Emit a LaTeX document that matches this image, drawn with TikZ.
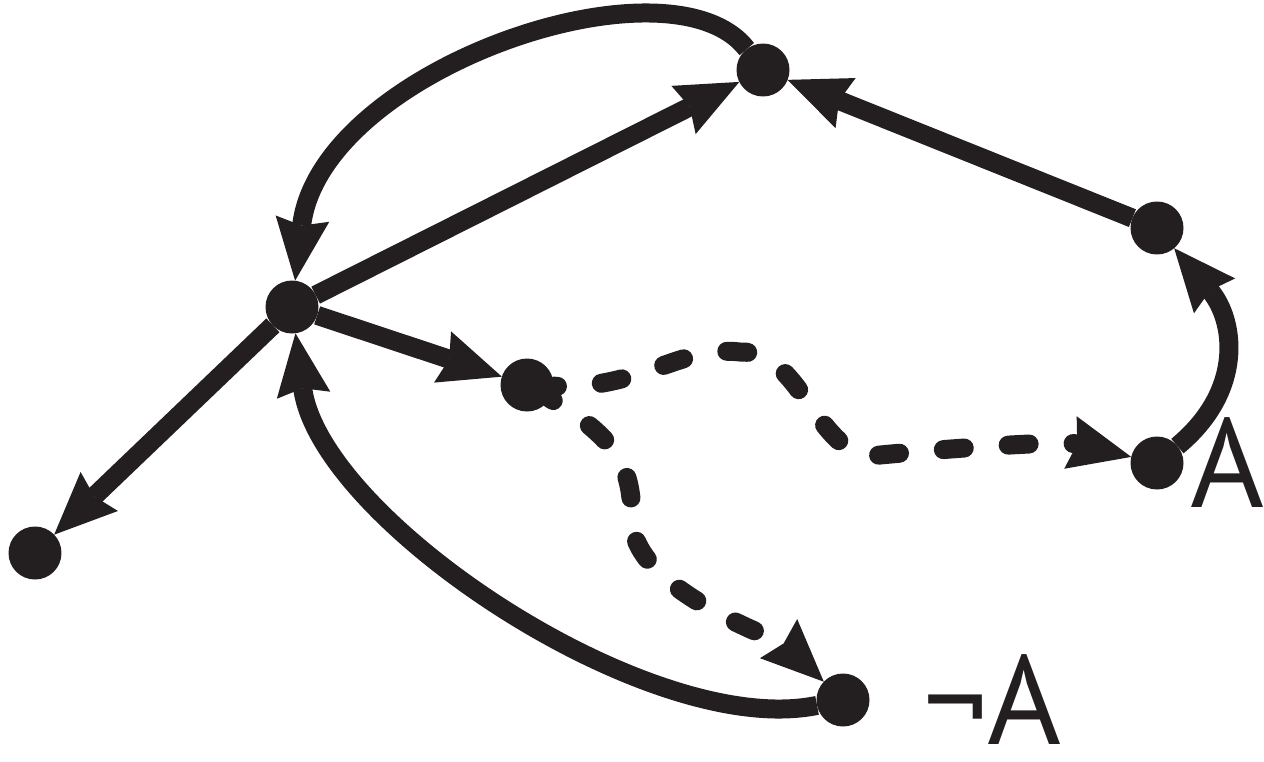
\documentclass[tikz,border=0pt]{standalone}
\usepackage{fontspec}
\setmainfont{PT Sans}
\usetikzlibrary{arrows.meta}

\definecolor{ink}{HTML}{231F20}

\begin{document}
\begin{tikzpicture}[
    x=0.02cm, y=-0.02cm,
    dot/.style={circle, fill=ink, minimum size=1.06cm, inner sep=0pt, outer sep=0pt},
    arrow/.style={-{Stealth[length=1.25cm, width=1.08cm, inset=0.14cm, line width=0pt]}, line width=0.38cm, draw=ink},
    dasharrow/.style={arrow, line cap=round, dash pattern=on 0.42cm off 0.88cm, dash phase=0.34cm},
    lbl/.style={inner sep=0pt, text=ink, font=\fontsize{72}{72}\selectfont}
]
\useasboundingbox (0,0) rectangle (1264,761);

% Points
\node[dot] (upper) at (763,70) {};
\node[dot] (far) at (1157,228) {};
\node[dot] (hub) at (292,307) {};
\node[dot] (fork) at (527,385) {};
\node[dot] (yesA) at (1157,463) {};
\node[dot] (leaf) at (35,553) {};
\node[dot] (notA) at (843,700) {};

% Solid arrows
\draw[arrow] (hub) -- (upper);
\draw[arrow] (far) -- (upper);
\draw[arrow] (upper) .. controls (670,-50) and (320,70) .. (hub);
\draw[arrow] (hub) -- (fork);
\draw[arrow] (hub) -- (leaf);
\draw[arrow] (notA) .. controls (650,740) and (320,520) .. (hub);
\draw[arrow] (yesA) .. controls (1245,390) and (1235,320) .. (far);

% Dashed arrows
\draw[dasharrow] (fork) .. controls (640,390) and (680,345) .. (740,352)
    .. controls (800,350) and (815,450) .. (870,456)
    .. controls (930,450) and (1060,440) .. (yesA);
\draw[dasharrow] (fork) .. controls (620,440) and (632,470) .. (632,520)
    .. controls (632,590) and (780,640) .. (notA);

% Labels
\node[lbl, anchor=base west] (labelA) at (1190,507) {A};
\node[lbl, anchor=base west] (labelnotA) at (923,744) {¬A};

\end{tikzpicture}
\end{document}
